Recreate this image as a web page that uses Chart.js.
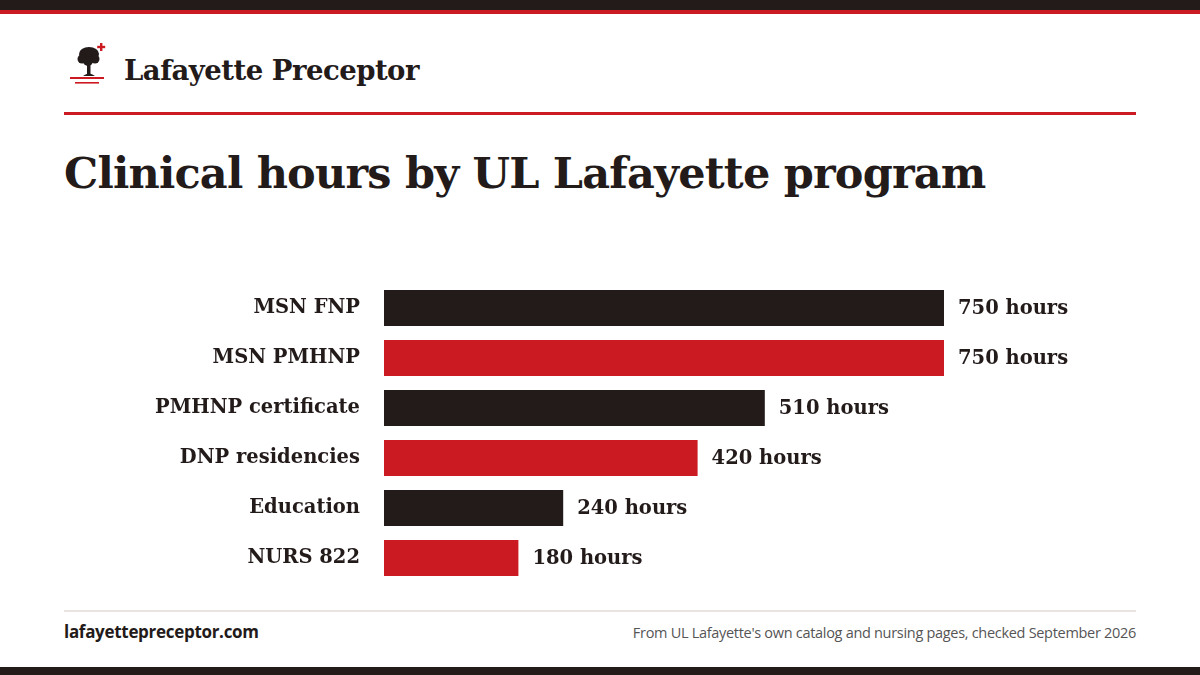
<!DOCTYPE html>
<html>
<head>
<meta charset="utf-8">
<script src="https://cdn.jsdelivr.net/npm/chart.js@4.4.1/dist/chart.umd.min.js"></script>
<style>
  html, body { margin:0; padding:0; background:#fff; }
  body { width:1200px; height:675px; position:relative; overflow:hidden; font-family:"DejaVu Serif", serif; color:#231a1a; }
  .topbar { position:absolute; left:0; top:0; width:1200px; height:10px; background:#231a1a; }
  .topred { position:absolute; left:0; top:10px; width:1200px; height:4px; background:#cc1a22; }
  .brand { position:absolute; left:124px; top:54px; font-size:27.5px; font-weight:bold; letter-spacing:-0.5px; }
  .logo { position:absolute; left:68px; top:42px; }
  .hdrline { position:absolute; left:64px; top:112px; width:1072px; height:3px; background:#cc1a22; }
  h1 { position:absolute; left:64px; top:148px; margin:0; font-size:43px; font-weight:bold; letter-spacing:-0.8px; white-space:nowrap; }
  .chartwrap { position:absolute; left:64px; top:283px; width:1072px; height:300px; }
  .ftline { position:absolute; left:64px; top:610px; width:1072px; height:2px; background:#ebe3e1; }
  .ftl { position:absolute; left:64px; top:620px; font-family:"Open Sans", sans-serif; font-weight:bold; font-size:17px; letter-spacing:-0.3px; }
  .ftr { position:absolute; right:64px; top:623px; font-family:"Open Sans", sans-serif; font-size:14.5px; color:#555; letter-spacing:-0.3px; }
  .botbar { position:absolute; left:0; top:667px; width:1200px; height:8px; background:#231a1a; }
</style>
</head>
<body>
<div class="topbar"></div>
<div class="topred"></div>
<svg class="logo" width="40" height="44" viewBox="0 0 40 44">
  <rect x="32" y="1" width="2.4" height="8" fill="#cc1a22"/>
  <rect x="29.2" y="3.8" width="8" height="2.4" fill="#cc1a22"/>
  <ellipse cx="21" cy="12" rx="10" ry="7" fill="#231a1a"/>
  <circle cx="14" cy="17" r="4.5" fill="#231a1a"/>
  <circle cx="27" cy="17" r="4.5" fill="#231a1a"/>
  <circle cx="20" cy="19" r="5" fill="#231a1a"/>
  <rect x="19" y="18" width="3.5" height="14" fill="#231a1a"/>
  <path d="M15 34 Q21 29 27 34 Z" fill="#231a1a"/>
  <rect x="2" y="35" width="34" height="2" fill="#cc1a22"/>
  <rect x="7" y="40" width="24" height="1.6" fill="#cc1a22"/>
</svg>
<div class="brand">Lafayette Preceptor</div>
<div class="hdrline"></div>
<h1>Clinical hours by UL Lafayette program</h1>
<div class="chartwrap"><canvas id="c"></canvas></div>
<div class="ftline"></div>
<div class="ftl">lafayettepreceptor.com</div>
<div class="ftr">From UL Lafayette's own catalog and nursing pages, checked September 2026</div>
<div class="botbar"></div>
<script>
const categories = ["MSN FNP", "MSN PMHNP", "PMHNP certificate", "DNP residencies", "Education", "NURS 822"];
const hours = [750, 750, 510, 420, 240, 180];
const barColors = ["#231a1a", "#cc1a22", "#231a1a", "#cc1a22", "#231a1a", "#cc1a22"];
const valueSuffix = " hours";

const valueLabels = {
  id: 'valueLabels',
  afterDatasetsDraw(chart) {
    const ctx = chart.ctx;
    const meta = chart.getDatasetMeta(0);
    ctx.save();
    ctx.font = 'bold 19.5px "DejaVu Serif", serif';
    ctx.fillStyle = '#231a1a';
    ctx.textBaseline = 'middle';
    ctx.textAlign = 'left';
    meta.data.forEach((bar, i) => {
      ctx.fillText(hours[i] + valueSuffix, bar.x + 14, bar.y + 1);
    });
    ctx.restore();
  }
};

new Chart(document.getElementById('c'), {
  type: 'bar',
  data: {
    labels: categories,
    datasets: [{
      data: hours,
      backgroundColor: barColors,
      borderWidth: 0,
      barPercentage: 0.72,
      categoryPercentage: 1.0
    }]
  },
  options: {
    indexAxis: 'y',
    responsive: true,
    maintainAspectRatio: false,
    animation: false,
    layout: { padding: { top: 0, bottom: 0, left: 0, right: 5.33 } },
    plugins: { legend: { display: false }, tooltip: { enabled: false } },
    scales: {
      x: {
        min: 0, max: 1000,
        display: false,
        grid: { display: false }
      },
      y: {
        grid: { display: false },
        border: { display: false },
        afterFit(scale) { scale.width = 320; scale.paddingTop = 0; scale.paddingBottom = 0; },
        ticks: {
          padding: 16,
          color: '#231a1a',
          font: { family: '"DejaVu Serif", serif', size: 19.5, weight: 'bold' }
        }
      }
    }
  },
  plugins: [valueLabels]
});
</script>
</body>
</html>
